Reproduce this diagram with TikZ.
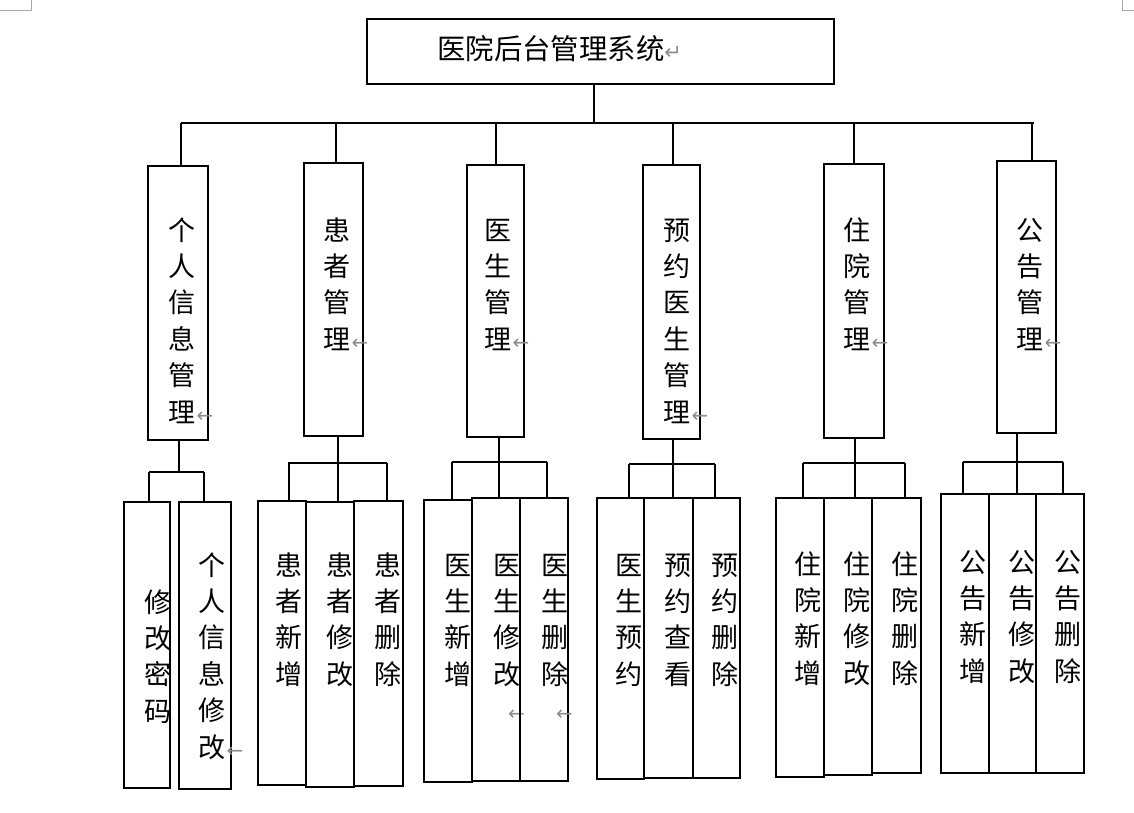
\documentclass[tikz,border=0pt]{standalone}
\usepackage{fontspec}
\newfontfamily\cjk{Noto Sans CJK SC}
\newfontfamily\symfont{DejaVu Sans}
\usetikzlibrary{positioning}
\definecolor{pmark}{HTML}{8C8C8C}
\definecolor{cropln}{HTML}{A6A6A6}
\newcommand{\retarr}{\rlap{\hspace{1pt}\textcolor{pmark}{\symfont\fontsize{20}{20}\selectfont ←}}}
\newcommand{\retpara}{\textcolor{pmark}{\symfont\fontsize{21}{21}\selectfont ↵}}

\begin{document}
\begin{tikzpicture}[x=1pt,y=-1pt,
  modbox/.style={draw,line width=1.6pt,inner sep=0pt},
  vlab/.style={align=center,inner sep=0pt,anchor=base,font=\cjk\fontsize{27}{36.4}\selectfont},
  lnk/.style={line width=1.6pt}]
  \useasboundingbox (0,0) rectangle (1134,813);
  % page corner marks
  \draw[cropln,line width=0.8pt] (0,10) -- (31,10) -- (31,0);
  \draw[cropln,line width=0.8pt] (1122,0) -- (1122,10) -- (1134,10);

  % root
  \node[modbox,minimum width=467pt,minimum height=65pt] (root) at (600.5,51.5) {};
  \node[anchor=west,inner sep=0pt,font=\cjk\fontsize{28.4}{30}\selectfont] (title) at (437,49) {医院后台管理系统\retpara};
  \coordinate (busL) at (181,123);
  \coordinate (busM) at (594,123);
  \coordinate (busR) at (1034,123);
  \draw[lnk] (busM |- root.south) -- (busM);
  \draw[lnk] (busL) -- (busR);

  % modules (base = last line)
  \foreach \n/\xa/\xb/\top/\bot/\dx/\tx/\k/\txt in {
    m1/148/208/166/440/181/182/6/个\\人\\信\\息\\管\\理\retarr,
    m2/304/363/163/436/336/337/4/患\\者\\管\\理\retarr,
    m3/467/524/165/437/496/498/4/医\\生\\管\\理\retarr,
    m4/643/700/165/439/673/677/6/预\\约\\医\\生\\管\\理\retarr,
    m5/824/884/164/438/854/857/4/住\\院\\管\\理\retarr,
    m6/997/1056/161/433/1032/1030/4/公\\告\\管\\理\retarr}{
    \node[modbox,minimum width={(\xb-\xa)*1pt},minimum height={(\bot-\top)*1pt}] (\n) at ({(\xa+\xb)/2},{(\top+\bot)/2}) {};
    \node[vlab] (\n-t) at (\tx,{240+(\k-1)*36.4}) {\txt};
    \coordinate (\n-d) at (\dx,123);
    \draw[lnk] (\n-d) -- (\n-d |- \n.north);
  }

  % sub-level buses
  \foreach \p/\sx/\hy/\lx/\rx in {m1/179/472/149/204, m2/338/463/289/387,
    m3/499/462/452/547, m4/673/464/629/715, m5/855/463/803/905, m6/1017/462/963/1063}{
    \coordinate (\p-h) at (\sx,\hy);
    \draw[lnk] (\p-h |- \p.south) -- (\p-h);
    \draw[lnk] (\lx,\hy) -- (\rx,\hy);
  }

  % functions
  \foreach \n/\xa/\xb/\top/\bot/\dx/\hy/\tx/\ty/\k/\txt in {
    l11/124/170/502/788/149/472/158/602/4/修\\改\\密\\码,
    l12/179/231/502/789/204/472/212/565/6/个\\人\\信\\息\\修\\改\retarr,
    l21/258/306/501/785/289/462/289/565/4/患\\者\\新\\增,
    l22/306/354/502/787/338/463/340/565/4/患\\者\\修\\改,
    l23/354/403/501/786/387/463/388/565/4/患\\者\\删\\除,
    l31/424/472/500/782/452/462/458/565/4/医\\生\\新\\增,
    l32/472/520/498/781/499/462/507/565/5/医\\生\\修\\改\\\retarr,
    l33/520/568/498/781/547/462/555/565/5/医\\生\\删\\除\\\retarr,
    l41/597/644/498/779/629/464/629/565/4/医\\生\\预\\约,
    l42/644/693/498/778/673/464/678/565/4/预\\约\\查\\看,
    l43/693/740/498/778/715/464/725/565/4/预\\约\\删\\除,
    l51/776/824/498/777/803/463/808/564/4/住\\院\\新\\增,
    l52/824/872/498/775/855/463/857/564/4/住\\院\\修\\改,
    l53/872/921/498/773/905/463/905/564/4/住\\院\\删\\除,
    l61/941/989/494/773/963/462/973/562/4/公\\告\\新\\增,
    l62/989/1036/494/773/1017/462/1022/562/4/公\\告\\修\\改,
    l63/1036/1084/494/773/1063/462/1068/562/4/公\\告\\删\\除}{
    \node[modbox,minimum width={(\xb-\xa)*1pt},minimum height={(\bot-\top)*1pt}] (\n) at ({(\xa+\xb)/2},{(\top+\bot)/2}) {};
    \node[vlab] (\n-t) at (\tx,{\ty+10+(\k-1)*36.4}) {\txt};
    \coordinate (\n-d) at (\dx,\hy);
    \draw[lnk] (\n-d) -- (\n-d |- \n.north);
  }
\end{tikzpicture}
\end{document}
